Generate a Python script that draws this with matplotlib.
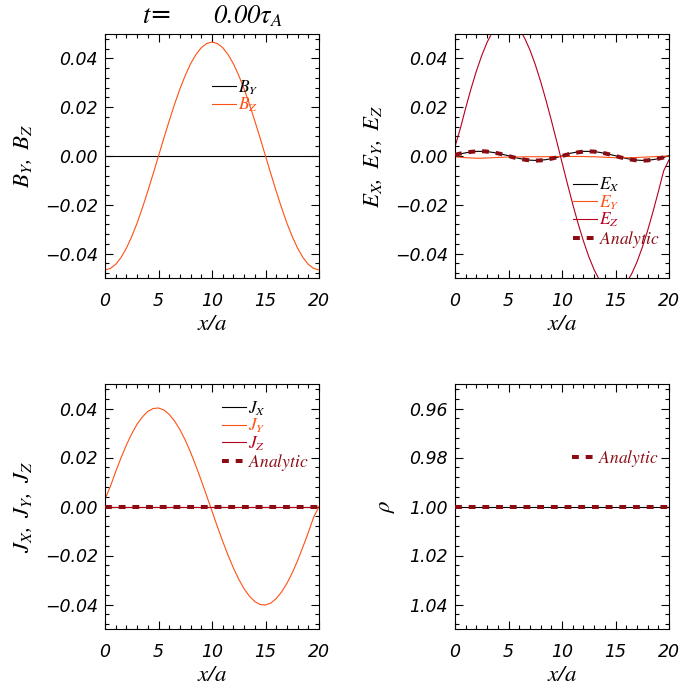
import numpy as np
import matplotlib
matplotlib.use('Agg')
import matplotlib.pyplot as plt
from matplotlib.ticker import MultipleLocator, FuncFormatter

plt.rcParams['mathtext.fontset'] = 'stix'
plt.rcParams['font.family'] = ['DejaVu Sans']
plt.rcParams['font.style'] = 'italic'

# ---------------- data ----------------
x_vals = np.linspace(0, 20, 41)

b_y = [0.0] * 41
b_z = [-0.0467, -0.0461, -0.0444, -0.0416, -0.0378, -0.0330, -0.0275, -0.0212, -0.0144, -0.0073,
       0.0000, 0.0073, 0.0144, 0.0212, 0.0275, 0.0330, 0.0378, 0.0416, 0.0444, 0.0461,
       0.0467, 0.0461, 0.0444, 0.0416, 0.0378, 0.0330, 0.0275, 0.0212, 0.0144, 0.0073,
       0.0000, -0.0073, -0.0144, -0.0212, -0.0275, -0.0330, -0.0378, -0.0416, -0.0444, -0.0461,
       -0.0467]

e_x = [0.0004, 0.0009, 0.0013, 0.0017, 0.0019, 0.0019, 0.0018, 0.0015, 0.0011, 0.0006,
       0.0001, -0.0005, -0.0010, -0.0014, -0.0017, -0.0018, -0.0017, -0.0015, -0.0011, -0.0006,
       0.0000, 0.0009, 0.0013, 0.0017, 0.0019, 0.0019, 0.0018, 0.0015, 0.0011, 0.0006,
       0.0001, -0.0005, -0.0010, -0.0014, -0.0017, -0.0018, -0.0017, -0.0015, -0.0011, -0.0006,
       0.0002]
e_y = [-0.0003, -0.0005, -0.0007, -0.0008, -0.0009, -0.0009, -0.0008, -0.0007, -0.0006, -0.0005,
       -0.0004, -0.0004, -0.0004, -0.0003, -0.0003, -0.0003, -0.0003, -0.0003, -0.0002, -0.0002,
       -0.0002, -0.0002, -0.0002, -0.0002, -0.0002, -0.0003, -0.0003, -0.0004, -0.0005, -0.0006,
       -0.0007, -0.0007, -0.0007, -0.0007, -0.0006, -0.0005, -0.0004, -0.0003, -0.0002, -0.0001,
       0.0000]
e_z = [0.0038, 0.0113, 0.0197, 0.0276, 0.0348, 0.0412, 0.0466, 0.0508, 0.0537, 0.0554,
       0.0556, 0.0545, 0.0521, 0.0484, 0.0435, 0.0375, 0.0306, 0.0229, 0.0147, 0.0061,
       -0.0026, -0.0113, -0.0197, -0.0276, -0.0348, -0.0412, -0.0466, -0.0508, -0.0537, -0.0554,
       -0.0556, -0.0545, -0.0521, -0.0484, -0.0435, -0.0375, -0.0306, -0.0229, -0.0147, -0.0061,
       -0.0016]
e_analytic = [0.0005, 0.0010, 0.0014, 0.0017, 0.0019, 0.0020, 0.0018, 0.0015, 0.0011, 0.0006,
              0.0000, -0.0006, -0.0011, -0.0015, -0.0018, -0.0019, -0.0018, -0.0015, -0.0011, -0.0006,
              0.0000, 0.0006, 0.0011, 0.0015, 0.0018, 0.0019, 0.0018, 0.0015, 0.0011, 0.0006,
              0.0000, -0.0006, -0.0011, -0.0015, -0.0018, -0.0019, -0.0018, -0.0015, -0.0011, -0.0006,
              0.0003]

j_x = [-0.0001] * 41
j_y = [0.0030, 0.0082, 0.0142, 0.0199, 0.0251, 0.0297, 0.0336, 0.0366, 0.0388, 0.0400,
       0.0402, 0.0394, 0.0376, 0.0349, 0.0314, 0.0271, 0.0221, 0.0165, 0.0106, 0.0044,
       -0.0019, -0.0082, -0.0142, -0.0199, -0.0251, -0.0297, -0.0336, -0.0366, -0.0388, -0.0400,
       -0.0402, -0.0394, -0.0376, -0.0349, -0.0314, -0.0271, -0.0221, -0.0165, -0.0106, -0.0044,
       0.0000]
j_z = [0.0] * 41
j_analytic = [0.0] * 41

rho = [1.0] * 41
rho_analytic = [1.0] * 41

field_ticks = [-0.04, -0.02, 0.00, 0.02, 0.04]
rho_ticks = [0.96, 0.98, 1.00, 1.02, 1.04]
x_ticks = [0, 5, 10, 15, 20]

# ---------------- styling ----------------
ORANGE = '#ff5014'
CRIMSON = '#b4001e'
MAROON = '#8c0c14'
THIN = 0.8
ANA_LW = 2.9
ANA_DASH = (1.7, 1.7)
TICK_FS = 12.5
LABEL_FS = 16.5
LEG_FS = 12.5

fig = plt.figure(figsize=(7, 7), dpi=100)
W, H = 700.0, 700.0

yfmt = FuncFormatter(lambda v, p: ('%.2f' % v).replace('-', '\u2212'))


def make_ax(left, top, right, bottom):
    return fig.add_axes([left / W, 1 - bottom / H, (right - left) / W, (bottom - top) / H])


def style(ax, ylim, yticks):
    ax.set_xlim(0, 20)
    ax.set_ylim(*ylim)
    ax.set_xticks(x_ticks)
    ax.xaxis.set_minor_locator(MultipleLocator(1))
    ax.set_yticks(yticks)
    ax.yaxis.set_minor_locator(MultipleLocator(0.004))
    ax.yaxis.set_major_formatter(yfmt)
    ax.tick_params(which='both', direction='in', top=True, right=True, width=0.8,
                   labelsize=TICK_FS)
    ax.tick_params(which='major', length=6)
    ax.tick_params(which='minor', length=3)
    ax.tick_params(axis='x', pad=10)
    ax.tick_params(axis='y', pad=5)
    for lbl in ax.get_xticklabels() + ax.get_yticklabels():
        lbl.set_fontstyle('oblique')
    for s in ax.spines.values():
        s.set_linewidth(0.8)
    ax.set_xlabel(r'$x/a$', fontsize=LABEL_FS)
    ax.xaxis.set_label_coords(0.5, -0.138)


def ana_line(ax, y, label):
    ln, = ax.plot(x_vals, y, color=MAROON, lw=ANA_LW, dashes=ANA_DASH,
                  dash_capstyle='butt', label=label, zorder=5)
    return ln


def legend(ax, x0, y0, colors):
    lg = ax.legend(loc='upper left', bbox_to_anchor=(x0, y0), frameon=False,
                   borderpad=0, borderaxespad=0, handlelength=1.4, handletextpad=0.1,
                   labelspacing=-0.05, fontsize=LEG_FS, labelcolor=colors)
    return lg


# Panel 1: B
ax1 = make_ax(105, 34, 319, 278)
ax1.plot(x_vals, b_y, color='black', lw=THIN, label=r'$B_Y$')
ax1.plot(x_vals, b_z, color=ORANGE, lw=THIN, label=r'$B_Z$')
style(ax1, (-0.05, 0.05), field_ticks)
ax1.set_ylabel(r'$B_Y,\ B_Z$', fontsize=LABEL_FS)
ax1.yaxis.set_label_coords(-0.33, 0.5)
legend(ax1, 0.50, 0.818, ['black', ORANGE])
fig.text(212 / W, 1 - 16 / H, r'$t$=     $0.00\tau_A$', ha='center', va='center',
         fontsize=19)

# Panel 2: E
ax2 = make_ax(455, 34, 669, 278)
ax2.plot(x_vals, e_x, color='black', lw=THIN, label=r'$E_X$')
ax2.plot(x_vals, e_y, color=ORANGE, lw=THIN, label=r'$E_Y$')
ax2.plot(x_vals, e_z, color=CRIMSON, lw=THIN, label=r'$E_Z$')
ana_line(ax2, e_analytic, r'$\mathit{Analytic}$')
style(ax2, (-0.05, 0.05), field_ticks)
ax2.set_ylabel(r'$E_X,\ E_Y,\ E_Z$', fontsize=LABEL_FS)
ax2.yaxis.set_label_coords(-0.33, 0.5)
legend(ax2, 0.55, 0.418, ['black', ORANGE, CRIMSON, MAROON])

# Panel 3: J
ax3 = make_ax(105, 384, 319, 629)
ax3.plot(x_vals, j_x, color='black', lw=THIN, label=r'$J_X$')
ax3.plot(x_vals, j_y, color=ORANGE, lw=THIN, label=r'$J_Y$')
ax3.plot(x_vals, j_z, color=CRIMSON, lw=THIN, label=r'$J_Z$')
ana_line(ax3, j_analytic, r'$\mathit{Analytic}$')
style(ax3, (-0.05, 0.05), field_ticks)
ax3.set_ylabel(r'$J_X,\ J_Y,\ J_Z$', fontsize=LABEL_FS)
ax3.yaxis.set_label_coords(-0.33, 0.5)
legend(ax3, 0.547, 0.937, ['black', ORANGE, CRIMSON, MAROON])

# Panel 4: rho
ax4 = make_ax(455, 384, 669, 629)
ax4.plot(x_vals, rho, color='black', lw=THIN)
ana_line(ax4, rho_analytic, r'$\mathit{Analytic}$')
style(ax4, (1.05, 0.95), rho_ticks)
ax4.set_ylabel(r'$\rho$', fontsize=LABEL_FS)
ax4.yaxis.set_label_coords(-0.27, 0.5)
legend(ax4, 0.547, 0.737, [MAROON])

fig.savefig('out.png', dpi=100)
